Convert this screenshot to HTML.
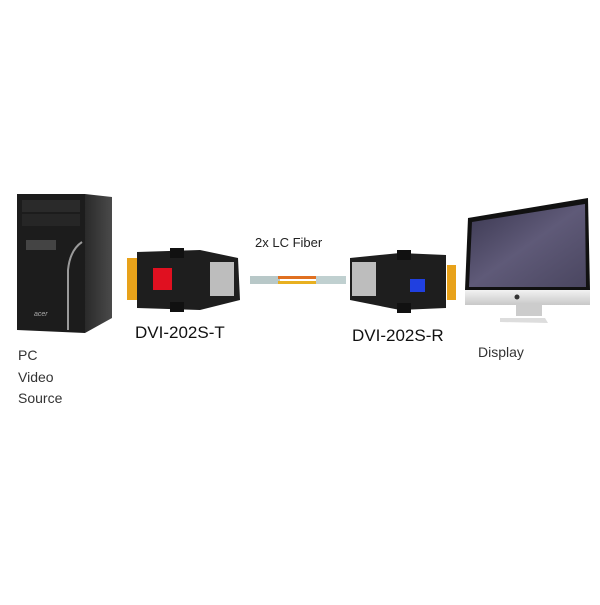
<!DOCTYPE html>
<html><head><style>
body{margin:0;background:#fff;width:600px;height:600px;overflow:hidden}
</style></head><body>
<svg width="600" height="600" viewBox="0 0 600 600" xmlns="http://www.w3.org/2000/svg">
<defs>
<linearGradient id="side" x1="0" x2="1"><stop offset="0" stop-color="#2a2a2a"/><stop offset="1" stop-color="#4a4a4a"/></linearGradient>
<linearGradient id="scr" x1="0" y1="0" x2="1" y2="1"><stop offset="0" stop-color="#3a3750"/><stop offset="0.5" stop-color="#5f5a78"/><stop offset="1" stop-color="#4a4660"/></linearGradient>
<linearGradient id="alu" x1="0" y1="0" x2="0" y2="1"><stop offset="0" stop-color="#f2f2f2"/><stop offset="1" stop-color="#c8c8c8"/></linearGradient>
</defs>
<!-- PC tower -->
<polygon points="17,194 85,194 85,333 17,330" fill="#1c1c1c"/>
<polygon points="85,194 112,197 112,318 85,333" fill="url(#side)"/>
<rect x="22" y="200" width="58" height="12" fill="#2a2a2a"/>
<rect x="22" y="214" width="58" height="12" fill="#262626"/>
<rect x="26" y="240" width="30" height="10" fill="#444"/>
<path d="M82,242 Q70,250 68,270 L68,330" stroke="#9a9a9a" stroke-width="2" fill="none"/>
<text x="34" y="316" font-family="Liberation Sans,sans-serif" font-size="7" font-style="italic" fill="#aaa">acer</text>
<!-- Transmitter -->
<rect x="127" y="258" width="12" height="42" fill="#e8a21a"/>
<path d="M137,252 L200,250 L238,258 L240,300 L200,310 L137,308 Z" fill="#1e1e1e"/>
<rect x="170" y="248" width="14" height="10" fill="#111"/>
<rect x="170" y="302" width="14" height="10" fill="#111"/>
<rect x="210" y="262" width="24" height="34" fill="#bdbdbd"/>
<rect x="153" y="268" width="19" height="22" fill="#e01020"/>
<text x="135" y="338" font-family="Liberation Sans,sans-serif" font-size="17" fill="#111">DVI-202S-T</text>
<!-- fiber -->
<rect x="250" y="276" width="30" height="8" fill="#b8c8c8"/>
<rect x="278" y="276" width="40" height="3" fill="#e07020"/>
<rect x="278" y="281" width="40" height="3" fill="#e8b020"/>
<rect x="316" y="276" width="30" height="8" fill="#c0d0d0"/>
<text x="255" y="247" font-family="Liberation Sans,sans-serif" font-size="13" fill="#222">2x LC Fiber</text>
<!-- Receiver -->
<path d="M350,258 L400,253 L446,255 L446,308 L400,310 L350,300 Z" fill="#1e1e1e"/>
<rect x="447" y="265" width="9" height="35" fill="#e8a21a"/>
<rect x="397" y="250" width="14" height="10" fill="#111"/>
<rect x="397" y="303" width="14" height="10" fill="#111"/>
<rect x="352" y="262" width="24" height="34" fill="#bdbdbd"/>
<rect x="410" y="279" width="15" height="13" fill="#2040e0"/>
<text x="352" y="341" font-family="Liberation Sans,sans-serif" font-size="17" fill="#111">DVI-202S-R</text>
<!-- Monitor -->
<polygon points="468,218 588,198 590,290 465,290" fill="#111"/>
<polygon points="472,222 585,204 586,287 469,287" fill="url(#scr)"/>
<polygon points="465,290 590,290 590,305 465,305" fill="url(#alu)"/>
<rect x="516" y="304" width="26" height="12" fill="#ccc"/>
<polygon points="500,318 545,318 548,323 500,322" fill="#ddd"/>
<circle cx="517" cy="297" r="2.5" fill="#333"/>
<text x="478" y="357" font-family="Liberation Sans,sans-serif" font-size="14" fill="#333">Display</text>
<!-- PC labels -->
<g font-family="Liberation Sans,sans-serif" font-size="14" fill="#333">
<text x="18" y="360">PC</text>
<text x="18" y="382">Video</text>
<text x="18" y="403">Source</text>
</g>
</svg>
</body></html>
